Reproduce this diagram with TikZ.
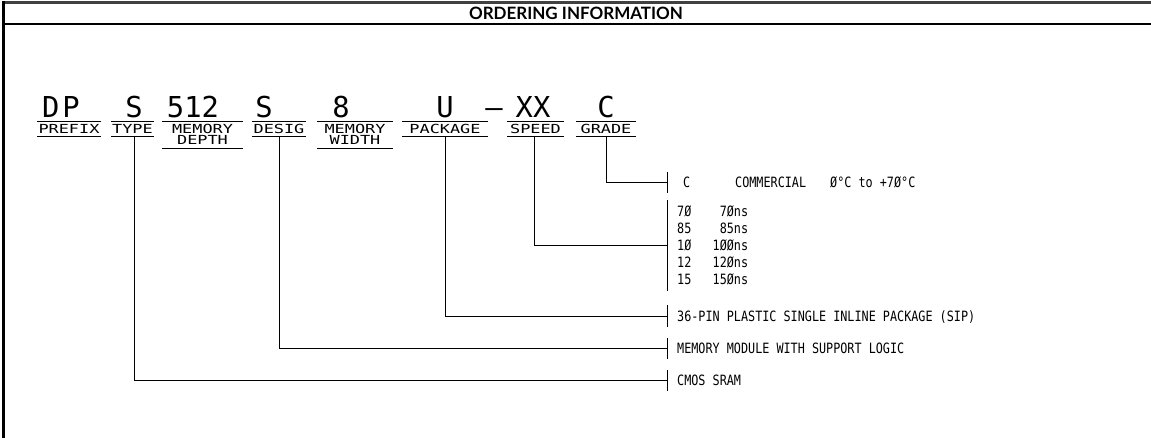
\documentclass[tikz,border=0pt]{standalone}
\usepackage{fontspec}
\setmainfont{Liberation Sans}
\newfontfamily\lblfont[FakeStretch=1.35]{DejaVu Sans Mono}
\newfontfamily\itemfont[FakeStretch=0.83]{DejaVu Sans Mono}
\newfontfamily\bigcad{DejaVu Sans Mono}
\newfontfamily\titlefont{Lato}
\begin{document}
\begin{tikzpicture}[x=1pt,y=-1pt,
  big/.style={font=\bigcad\fontsize{28.8}{30}\selectfont, inner sep=0pt, anchor=base},
  lbl/.style={font=\lblfont\fontsize{12.5}{14}\selectfont, inner sep=0pt, anchor=base},
  item/.style={font=\itemfont\fontsize{14.2}{17}\selectfont, inner sep=0pt, anchor=base west},
  wire/.style={line width=1pt, line cap=rect},
  rule/.style={line width=0.9pt},
  frame/.style={line width=2.6pt}]
\useasboundingbox (0,0) rectangle (1151,438);
% frame
\draw[frame, draw=black!75] (3,2.5) -- (1151,2.5);
\draw[frame] (3.5,1.5) -- (3.5,438);
\draw[frame] (3.5,24) -- (1151,24);
\node[font=\titlefont\bfseries\fontsize{17}{20}\selectfont, inner sep=0pt] (title) at (576,13.5) {ORDERING INFORMATION};
% big code letters
\node[big] (dp) at (61,118) {D\kern3pt P};
\node[big] (type) at (134,118) {S};
\node[big] (depth) at (193,118) {512};
\node[big] (desig) at (264,118) {S};
\node[big] (width) at (341,118) {8};
\node[big] (pkg) at (445,118) {U};
\node[big] (dash) at (494,118) {–};
\node[big] (speed) at (533,118) {XX};
\node[big] (grade) at (606,118) {C};
% labels
\node[lbl] (lprefix) at (69,133.5) {PREFIX};
\node[lbl] (ltype) at (132.5,133.5) {TYPE};
\node[lbl] (ldepth1) at (202.5,133.5) {MEMORY};
\node[lbl] (ldepth2) at (202.5,145) {DEPTH};
\node[lbl] (ldesig) at (279,133.5) {DESIG};
\node[lbl] (lwidth1) at (355,133.5) {MEMORY};
\node[lbl] (lwidth2) at (355,145) {WIDTH};
\node[lbl] (lpkg) at (445,133.5) {PACKAGE};
\node[lbl] (lspeed) at (535.5,133.5) {SPEED};
\node[lbl] (lgrade) at (606,133.5) {GRADE};
% over/under lines of labels
\foreach \a/\b in {37/101,111/154,162/243,252/306,317/393,402/488,507/564,576/636}
  \draw[rule] (\a,121) -- (\b,121);
\foreach \a/\b in {37/101,111/154,252/306,402/488,507/564,576/636}
  \draw[rule] (\a,136.5) -- (\b,136.5);
\foreach \a/\b in {162/243,317/393}
  \draw[rule] (\a,148.5) -- (\b,148.5);
% connector start points
\coordinate (stype) at (134,136.5);
\coordinate (sdesig) at (279,136.5);
\coordinate (spkg) at (445,136.5);
\coordinate (sspeed) at (534,136.5);
\coordinate (sgrade) at (606,136.5);
% tick bars
\coordinate (tgrade) at (667,183);
\coordinate (tspeed) at (667,246);
\coordinate (tpkg) at (667,316);
\coordinate (tdesig) at (667,348);
\coordinate (ttype) at (667,380);
\foreach \t in {tgrade,tpkg,tdesig,ttype}
  \draw[wire] ([yshift=-10pt]\t) -- ([yshift=10pt]\t);
\draw[wire] (667,201) -- (667,291);
% connectors
\draw[wire] (sgrade) |- (tgrade);
\draw[wire] (sspeed) |- (tspeed);
\draw[wire] (spkg) |- (tpkg);
\draw[wire] (sdesig) |- (tdesig);
\draw[wire] (stype) |- (ttype);
% item texts
\node[item] (igrade) at (683,188) {C};
\node[item] (igrade2) at (735,188) {COMMERCIAL};
\node[item] (igrade3) at (830,188) {Ø°C to +7Ø°C};
\node[item] (is70) at (677,217) {7Ø\ \ \ \ 7Øns};
\node[item] (is85) at (677,234) {85\ \ \ \ 85ns};
\node[item] (is10) at (677,251) {1Ø\ \ \ 1ØØns};
\node[item] (is12) at (677,268) {12\ \ \ 12Øns};
\node[item] (is15) at (677,285) {15\ \ \ 15Øns};
\node[item] (ipkg) at (677,321) {36-PIN PLASTIC SINGLE INLINE PACKAGE (SIP)};
\node[item] (idesig) at (677,353) {MEMORY MODULE WITH SUPPORT LOGIC};
\node[item] (itype) at (677,385) {CMOS SRAM};
\end{tikzpicture}
\end{document}
